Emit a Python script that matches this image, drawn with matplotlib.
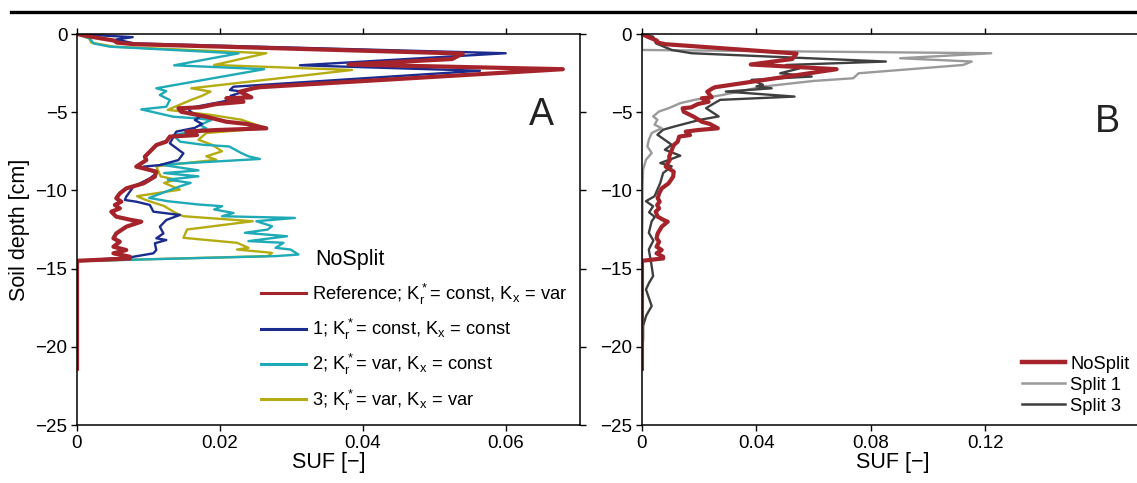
import matplotlib
matplotlib.use("Agg")
import matplotlib.pyplot as plt
from matplotlib.lines import Line2D

plt.rcParams['font.family'] = ['Liberation Sans', 'DejaVu Sans']
plt.rcParams['mathtext.default'] = 'regular'

# Reference / NoSplit (SUF, depth in cm)
ref_suf = [0, 0.0023, 0.0052, 0.0056, 0.008, 0.054, 0.0525, 0.038, 0.068, 0.0256,
           0.0247, 0.0228, 0.0244, 0.0209, 0.0233, 0.0195, 0.0172, 0.0142, 0.0146, 0.0181,
           0.0209, 0.0237, 0.0265, 0.0195, 0.0153, 0.0168, 0.013, 0.0125, 0.0111, 0.0102,
           0.0095, 0.0097, 0.0083, 0.0093, 0.0111, 0.0109, 0.0093, 0.0069, 0.006, 0.0055,
           0.0062, 0.0053, 0.006, 0.0048, 0.0055, 0.0076, 0.009, 0.0069, 0.0055, 0.0051,
           0.006, 0.0051, 0.0069, 0.0051, 0.0074, 0.0074, 0.0, 0.0]
ref_depth = [0, -0.2, -0.42, -0.55, -0.65, -1.25, -1.6, -1.95, -2.25, -3.4,
             -3.47, -3.69, -4.05, -4.11, -4.33, -4.48, -4.69, -4.75, -4.97, -5.29,
             -5.61, -5.75, -6.03, -6.14, -6.24, -6.46, -6.56, -6.88, -7.1, -7.52,
             -7.84, -8.06, -8.48, -8.59, -8.8, -9.12, -9.55, -9.87, -10.19, -10.5,
             -10.72, -10.93, -11.15, -11.36, -11.68, -11.89, -12.0, -12.32, -12.75, -13.06,
             -13.28, -13.6, -13.81, -14.02, -14.24, -14.35, -14.5, -21.4]

# Scenario 1; Kr const, Kx const
s1_suf = [0, 0.0045, 0.0078, 0.0055, 0.008, 0.06, 0.0312, 0.0564, 0.0219, 0.0214,
          0.0233, 0.0215, 0.0228, 0.0195, 0.0172, 0.0155, 0.016, 0.0172, 0.0165, 0.0175,
          0.0165, 0.0139, 0.013, 0.0149, 0.0142, 0.0116, 0.0093, 0.0111, 0.0102, 0.0079,
          0.0069, 0.0067, 0.0083, 0.0102, 0.0107, 0.0144, 0.0125, 0.0116, 0.0121, 0.0111,
          0.0125, 0.0109, 0.0111, 0.0107, 0.0074, 0]
s1_depth = [0, -0.12, -0.2, -0.35, -0.6, -1.23, -2.0, -2.35, -3.37, -3.58,
            -3.69, -3.95, -4.1, -4.4, -4.6, -4.75, -5.0, -5.3, -5.5, -5.75,
            -6.0, -6.24, -6.99, -7.63, -8.06, -8.38, -8.48, -8.91, -9.23, -9.76,
            -10.4, -10.61, -10.72, -10.93, -11.36, -11.57, -11.89, -12.32, -12.75, -13.06,
            -13.17, -13.38, -13.81, -14.02, -14.28, -14.5]

# Scenario 2; Kr var, Kx const
s2_suf = [0, 0.0018, 0.0023, 0.0046, 0.0226, 0.0136, 0.0262, 0.0111, 0.0125, 0.0116,
          0.013, 0.0125, 0.009, 0.0135, 0.0167, 0.0188, 0.0172, 0.0181, 0.0163, 0.0135,
          0.0144, 0.0176, 0.0213, 0.023, 0.024, 0.0256, 0.0117, 0.017, 0.0122, 0.017,
          0.0127, 0.0159, 0.0144, 0.0101, 0.0127, 0.017, 0.0203, 0.0192, 0.0219, 0.0203,
          0.0305, 0.0251, 0.0273, 0.0267, 0.0235, 0.0294, 0.024, 0.0289, 0.0278, 0.0299,
          0.031, 0.0278, 0]
s2_depth = [0, -0.28, -0.6, -0.81, -1.24, -2.0, -2.25, -3.47, -3.65, -3.9,
            -4.22, -4.65, -4.82, -5.29, -5.39, -5.5, -5.82, -6.03, -6.24, -6.46,
            -6.88, -7.08, -7.19, -7.61, -7.82, -7.99, -8.35, -8.72, -8.89, -9.1,
            -9.31, -9.52, -9.74, -10.48, -10.69, -10.9, -11.01, -11.22, -11.44, -11.65,
            -11.76, -11.97, -12.29, -12.5, -12.71, -12.93, -13.24, -13.35, -13.67, -13.78,
            -14.1, -14.2, -14.52]

# Scenario 3; Kr var, Kx var
s3_suf = [0, 0.0017, 0.002, 0.0052, 0.0265, 0.0192, 0.0385, 0.016, 0.0187, 0.0175,
          0.016, 0.0127, 0.0187, 0.023, 0.0265, 0.0181, 0.017, 0.019, 0.0203, 0.0181,
          0.0195, 0.0111, 0.0117, 0.0138, 0.0122, 0.0144, 0.0084, 0.0095, 0.0122, 0.0138,
          0.0149, 0.0246, 0.0154, 0.0149, 0.0224, 0.024, 0.0224, 0.0273, 0.0267, 0]
s3_depth = [0, -0.28, -0.55, -0.81, -1.23, -1.98, -2.3, -3.47, -3.68, -3.95,
            -4.21, -4.85, -5.17, -5.48, -6.02, -6.33, -6.76, -7.1, -7.5, -7.82,
            -8.04, -8.46, -9.1, -9.31, -9.52, -9.95, -10.37, -10.59, -11.0, -11.44,
            -11.65, -11.97, -12.5, -13.03, -13.35, -13.67, -13.78, -13.99, -14.2, -14.52]

# Split 1
sp1_suf = [0, 0, 0.122, 0.0902, 0.1152, 0.1122, 0.0757, 0.0738, 0.06, 0.0423,
           0.0283, 0.0184, 0.0134, 0.0094, 0.006, 0.0039, 0.0054, 0.0044, 0.0069, 0.0034,
           0.0024, 0.0019, 0.0034, 0.0014, 0.0004, 0.0002, 0.0002, 0, 0]
sp1_depth = [0, -1.02, -1.23, -1.55, -1.76, -1.98, -2.51, -2.83, -3.0, -3.36,
             -3.89, -4.21, -4.42, -4.74, -4.95, -5.27, -5.48, -5.8, -6.02, -6.33,
             -6.76, -7.19, -7.61, -8.04, -8.67, -9.74, -11.86, -14.0, -14.5]

# Split 3
sp3_suf = [0, 0.0039, 0.0049, 0.0104, 0.0174, 0.0852, 0.0503, 0.055, 0.0483, 0.0593,
           0.0383, 0.0423, 0.04, 0.0453, 0.0293, 0.0533, 0.0273, 0.0243, 0.0224, 0.0268,
           0.0204, 0.0114, 0.0074, 0.0054, 0.0104, 0.008, 0.0134, 0.0064, 0.0104, 0.0074,
           0.0064, 0.0044, 0.0014, 0.0039, 0.0025, 0.0045, 0.0034, 0.0024, 0.004, 0.0024,
           0.0034, 0.0039, 0.0025, 0.0014, 0.0034, 0.0015, 0.0004, 0.0004, 0]
sp3_depth = [0, -0.17, -0.6, -1.02, -1.23, -1.76, -1.98, -2.2, -2.51, -2.72,
             -2.93, -3.25, -3.35, -3.47, -3.68, -4.0, -4.21, -4.53, -4.74, -5.27,
             -5.48, -5.91, -6.12, -6.44, -7.08, -7.4, -7.78, -8.25, -8.46, -8.89,
             -9.52, -10.37, -10.69, -11.01, -11.4, -11.7, -11.97, -12.71, -13.2, -13.78,
             -14.84, -15.48, -15.9, -16.33, -17.39, -18.0, -18.66, -19.51, -20.4]

labels_a = [r"Reference; K$_r^*$= const, K$_x$ = var",
            r"1; K$_r^*$= const, K$_x$ = const",
            r"2; K$_r^*$= var, K$_x$ = const",
            r"3; K$_r^*$= var, K$_x$ = var"]
labels_b = ["NoSplit", "Split 1", "Split 3"]

red = '#A5232B'
blue = '#1B2B8E'
cyan = '#1EAAB6'
olive = '#B4AC12'
lgray = '#9A9A9A'
dgray = '#3F3F3F'

fig = plt.figure(figsize=(11.37, 4.83), dpi=100)
axA = fig.add_axes([0.0677, 0.12, 0.4424, 0.8096])
axB = fig.add_axes([0.5646, 0.12, 0.4406, 0.8096])

# panel A
axA.plot(s3_suf, s3_depth, color=olive, lw=1.7)
axA.plot(s2_suf, s2_depth, color=cyan, lw=1.7)
axA.plot(s1_suf, s1_depth, color=blue, lw=1.7)
axA.plot(ref_suf, ref_depth, color=red, lw=3.0)
axA.set_xlim(0, 0.0704)
axA.set_xticks([0, 0.02, 0.04, 0.06])
axA.set_xticklabels(['0', '0.02', '0.04', '0.06'])
axA.text(0.065, -5.15, 'A', fontsize=27, ha='center', va='center', color='#222222')
axA.text(0.0334, -14.4, 'NoSplit', fontsize=15.5, ha='left', va='center')
hA = [Line2D([], [], color=c, lw=2.2) for c in [red, blue, cyan, olive]]
axA.legend(hA, labels_a, loc='upper left', bbox_to_anchor=(0.365, 0.367),
           frameon=False, fontsize=13.2, borderpad=0, borderaxespad=0,
           handlelength=2.5, handletextpad=0.3, labelspacing=0.56)
axA.set_ylabel('Soil depth [cm]', fontsize=15.5, labelpad=4)

# panel B
axB.plot(sp1_suf, sp1_depth, color=lgray, lw=1.7)
axB.plot(sp3_suf, sp3_depth, color=dgray, lw=1.7)
axB.plot(ref_suf, ref_depth, color=red, lw=3.0)
axB.set_xlim(0, 0.175)
axB.set_xticks([0, 0.04, 0.08, 0.12])
axB.set_xticklabels(['0', '0.04', '0.08', '0.12'])
axB.text(0.1625, -5.6, 'B', fontsize=27, ha='center', va='center', color='#222222')
hB = [Line2D([], [], color=red, lw=3.2), Line2D([], [], color=lgray, lw=1.8),
      Line2D([], [], color=dgray, lw=1.8)]
axB.legend(hB, labels_b, loc='upper left', bbox_to_anchor=(0.758, 0.177),
           frameon=False, fontsize=13.2, borderpad=0, borderaxespad=0,
           handlelength=2.35, handletextpad=0.3, labelspacing=0.22)

for ax in (axA, axB):
    ax.set_ylim(-25, 0)
    ax.set_yticks([0, -5, -10, -15, -20, -25])
    ax.set_xlabel('SUF [\u2212]', fontsize=15.5, labelpad=0)
    ax.tick_params(direction='out', length=4, width=1, labelsize=13.5,
                   top=True, right=True, pad=3)
    for s in ax.spines.values():
        s.set_linewidth(1.1)

# page rule above the figure
fig.add_artist(Line2D([0.0097, 1.0], [0.975, 0.975], transform=fig.transFigure,
                      color='black', lw=2.4))

fig.savefig('out.png', dpi=100)
